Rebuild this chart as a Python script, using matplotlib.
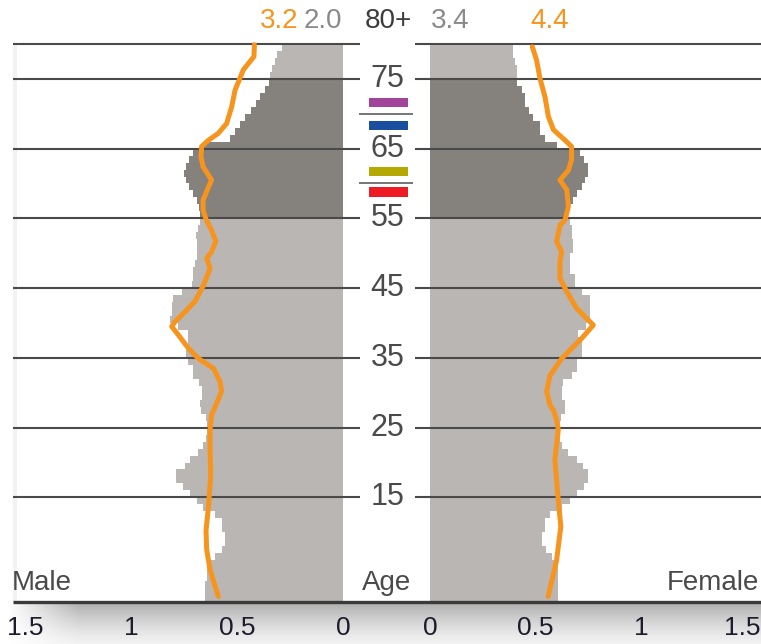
import matplotlib
matplotlib.use("Agg")
import matplotlib.pyplot as plt
import matplotlib.transforms as mtransforms
import numpy as np

# ---------------- data ----------------
ages = list(range(80))
male = [0.65, 0.65, 0.65, 0.64, 0.64, 0.64, 0.604, 0.572, 0.557, 0.557,
        0.572, 0.572, 0.604, 0.659, 0.69, 0.72, 0.756, 0.788, 0.788, 0.745,
        0.722, 0.682, 0.662, 0.645, 0.643, 0.643, 0.645, 0.671, 0.675, 0.667,
        0.667, 0.678, 0.706, 0.706, 0.73, 0.74, 0.74, 0.73, 0.73, 0.78,
        0.816, 0.808, 0.808, 0.80, 0.76, 0.714, 0.706, 0.706, 0.698, 0.69,
        0.69, 0.69, 0.693, 0.682, 0.675, 0.675, 0.678, 0.69, 0.706, 0.725,
        0.74, 0.75, 0.74, 0.725, 0.706, 0.66, 0.533, 0.509, 0.486, 0.462,
        0.435, 0.41, 0.39, 0.368, 0.348, 0.344, 0.336, 0.32, 0.31, 0.29]
female = [0.608, 0.608, 0.608, 0.608, 0.608, 0.608, 0.577, 0.548, 0.529, 0.529,
          0.545, 0.545, 0.569, 0.624, 0.664, 0.695, 0.731, 0.75, 0.75, 0.727,
          0.695, 0.656, 0.624, 0.616, 0.616, 0.616, 0.62, 0.64, 0.64, 0.624,
          0.624, 0.632, 0.671, 0.695, 0.695, 0.719, 0.719, 0.719, 0.703, 0.74,
          0.758, 0.758, 0.758, 0.758, 0.719, 0.687, 0.687, 0.664, 0.664, 0.664,
          0.679, 0.679, 0.671, 0.671, 0.664, 0.656, 0.664, 0.679, 0.695, 0.719,
          0.735, 0.75, 0.75, 0.731, 0.711, 0.60, 0.545, 0.521, 0.521, 0.49,
          0.469, 0.45, 0.45, 0.434, 0.411, 0.41, 0.41, 0.403, 0.395, 0.395]

male_line_age = [0.8, 4.6, 7.5, 10.3, 13.2, 18, 22, 24.7, 25.6, 26.8, 28.2, 30.2,
                 31.6, 33.5, 34.9, 36.4, 38.3, 39.5, 40.2, 41.6, 43.1, 45.4, 47.8,
                 49.3, 50.2, 51.7, 53.3, 54.8, 56.2, 57.6, 59.1, 60.5, 62.4, 63.8,
                 65.3, 66.2, 67.2, 68.6, 71, 73.4, 75.1, 76.3, 78.2, 79.9]
male_line_val = [0.588, 0.627, 0.643, 0.646, 0.636, 0.624, 0.627, 0.627, 0.624, 0.62,
                 0.60, 0.573, 0.58, 0.611, 0.682, 0.73, 0.777, 0.808, 0.792, 0.745,
                 0.698, 0.658, 0.627, 0.643, 0.62, 0.60, 0.62, 0.645, 0.66, 0.66,
                 0.64, 0.62, 0.66, 0.67, 0.667, 0.635, 0.588, 0.549, 0.525, 0.509,
                 0.486, 0.47, 0.42, 0.418]
female_line_age = [0.8, 6, 10.8, 15.6, 20.4, 24.7, 26.1, 27.5, 28.2, 30.2, 32.5,
                   34.9, 37.8, 39.7, 42.1, 44.5, 46.4, 48.8, 50.2, 51.7, 54, 54.8,
                   56.7, 59.1, 60.5, 61.9, 63.4, 65.3, 66.2, 67.7, 69.6, 72.4, 75.1,
                   77.7, 79.6]
female_line_val = [0.56, 0.60, 0.62, 0.605, 0.592, 0.608, 0.60, 0.585, 0.569, 0.553,
                   0.569, 0.624, 0.719, 0.774, 0.695, 0.648, 0.616, 0.616, 0.624,
                   0.60, 0.616, 0.64, 0.656, 0.648, 0.616, 0.656, 0.671, 0.671, 0.64,
                   0.585, 0.561, 0.545, 0.521, 0.505, 0.485]

grid_ages = [80, 75, 65, 55, 45, 35, 25, 15]
center_labels = ["80+", "75", "65", "55", "45", "35", "25", "15"]
male_80_bar, male_80_line = "2.0", "3.2"
female_80_bar, female_80_line = "3.4", "4.4"
xticks = [0, 0.5, 1, 1.5]
xticklabels = ["0", "0.5", "1", "1.5"]
marker_ages = [(70.9, 72.3), (67.7, 69.0), (61.1, 62.4), (58.1, 59.5)]
marker_colors = ["#a3449b", "#1a4fa0", "#b5a800", "#ed1c24"]
dark_range = (55, 75)

# ---------------- style ----------------
LIGHT = "#bab6b3"
DARK = "#85817c"
ORANGE = "#f7941d"
LINEC = "#4a4a4a"
REG = ["Liberation Sans", "DejaVu Sans"]

W, H = 761, 644
fig = plt.figure(figsize=(W / 100, H / 100), dpi=100)
fig.patch.set_facecolor("white")

y0_px, y1_px = 602, 44          # age 0 and age 80
ab = (H - y0_px) / H
ah = (y0_px - y1_px) / H

# bottom gradient strip
gax = fig.add_axes([0, 0, 1, (H - 603) / H])
gax.axis("off")
ny, nx = 41, 761
vy = np.linspace(0, 1, ny)[:, None]
vx = np.clip((np.arange(nx) - 8) / 70.0, 0, 1)[None, :]
shade = 1 - (0.26 * (1 - vy) ** 1.3 + 0.05) * vx
gax.imshow(np.dstack([shade, shade, shade]), aspect="auto", extent=[0, 1, 0, 1],
           origin="upper", interpolation="bilinear")
gax.set_xlim(0, 1); gax.set_ylim(0, 1)

def colors_for(a):
    return [DARK if dark_range[0] <= x < dark_range[1] else LIGHT for x in a]

left_x0 = 13
axL = fig.add_axes([left_x0 / W, ab, (343 - left_x0) / W, ah])
axR = fig.add_axes([430 / W, ab, (W - 430) / W, ah])
scaleL = 212.0
scaleR = 211.0
axL.set_xlim((343 - left_x0) / scaleL, 0)
axR.set_xlim(0, (W - 430) / scaleR)

for ax in (axL, axR):
    ax.set_ylim(0, 80)
    ax.patch.set_alpha(0)
    for s in ax.spines.values():
        s.set_visible(False)
    ax.set_yticks([])
    ax.set_xticks(xticks)
    ax.set_xticklabels(xticklabels, family=REG, fontsize=19, color="#1c1c2c")
    ax.tick_params(axis="x", length=0, pad=10)

# nudge the outermost right label so it stays inside the figure
lab_last = axR.xaxis.get_major_ticks()[-1].label1
lab_last.set_transform(lab_last.get_transform() +
                       mtransforms.ScaledTranslation(-4 / 100, 0, fig.dpi_scale_trans))

axL.barh(ages, male, height=1.0, align="edge", color=colors_for(ages), linewidth=0, zorder=1)
axR.barh(ages, female, height=1.0, align="edge", color=colors_for(ages), linewidth=0, zorder=1)

# faint left strip
axL.axvspan((343 - left_x0) / scaleL, (343 - left_x0 - 4) / scaleL, color="#f2f2f2", zorder=0, lw=0)

# grid lines (extend toward the center labels)
for a in grid_ages:
    axL.plot([(343 - left_x0) / scaleL, (343 - 360) / scaleL], [a, a], color=LINEC,
             lw=1.5, clip_on=False, zorder=2, solid_capstyle="butt")
    axR.plot([(415 - 430) / scaleR, (W - 430) / scaleR], [a, a], color=LINEC,
             lw=1.5, clip_on=False, zorder=2, solid_capstyle="butt")

axL.plot(male_line_val, male_line_age, color=ORANGE, lw=3.6, zorder=3,
         solid_joinstyle="round", solid_capstyle="round", clip_on=False)
axR.plot(female_line_val, female_line_age, color=ORANGE, lw=3.6, zorder=3,
         solid_joinstyle="round", solid_capstyle="round", clip_on=False)

# overlay for center labels and markers (x in pixels, y in age)
ov = fig.add_axes([0, ab, 1, ah])
ov.set_xlim(0, W)
ov.set_ylim(0, 80)
ov.axis("off")
ov.patch.set_alpha(0)

px_per_age = (y0_px - y1_px) / 80.0
def age_of(ypx):
    return (y0_px - ypx) / px_per_age

# bottom axis line
ov.plot([13, W], [0, 0], color="#3a3a3a", lw=2.4, clip_on=False, solid_capstyle="butt")

for a, lab in zip(grid_ages, center_labels):
    if lab == "80+":
        ov.text(388, age_of(21.5), lab, ha="center", va="center", fontsize=20,
                family=REG, color="#3c3c3c", clip_on=False)
    else:
        ov.text(387.5, a, lab, ha="center", va="center", fontsize=22,
                family=REG, color="#4a4a4a")

# top value labels
top_y = age_of(21.5)
for xp, txt, col in [(279, male_80_line, ORANGE), (322.5, male_80_bar, "#8a8a8a"),
                     (450, female_80_bar, "#8a8a8a"), (550, female_80_line, ORANGE)]:
    ov.text(xp, top_y, txt, ha="center", va="center", fontsize=20,
            family=REG, color=col, clip_on=False)

# short center lines and markers
for a in (70, 60):
    ov.plot([359, 413], [a, a], color="#6a6a6a", lw=1.3, solid_capstyle="butt")
for (lo, hi), c in zip(marker_ages, marker_colors):
    ov.fill_between([369, 408], [lo, lo], [hi, hi], color=c, lw=0)

# side labels
ov.text(12, age_of(590), "Male", ha="left", va="baseline", fontsize=20,
        family=REG, color="#4a4a4a")
ov.text(387, age_of(590), "Age", ha="center", va="baseline", fontsize=20,
        family=REG, color="#4a4a4a")
ov.text(759, age_of(590), "Female", ha="right", va="baseline", fontsize=20,
        family=REG, color="#4a4a4a")

fig.savefig("out.png", dpi=100, facecolor="white")
